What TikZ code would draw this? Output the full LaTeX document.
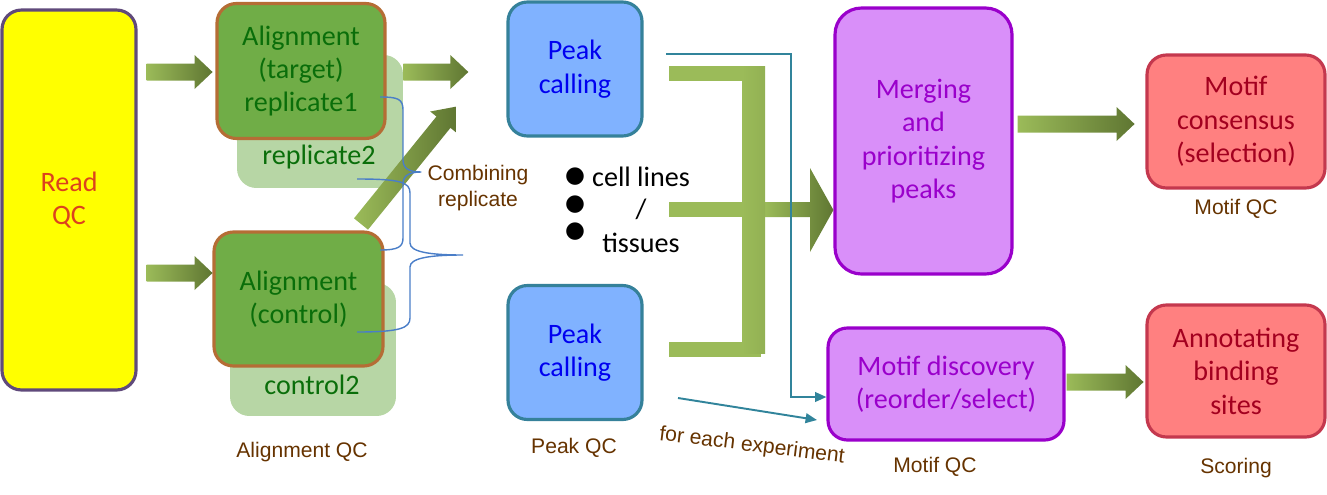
\documentclass[tikz,border=0pt]{standalone}
\usepackage{fontspec}
\setmainfont{Carlito}
\newfontfamily\labelfont{Liberation Sans}
\newfontfamily\symbolfont{DejaVu Sans}
\usetikzlibrary{calc,arrows.meta}

\definecolor{gLight}{HTML}{9BBB59}
\definecolor{gDark}{HTML}{5F7632}
\definecolor{readFill}{HTML}{FFFF00}
\definecolor{readLine}{HTML}{604A7B}
\definecolor{readText}{HTML}{DC421D}
\definecolor{alnFill}{HTML}{70AD47}
\definecolor{alnLine}{HTML}{B56D35}
\definecolor{alnText}{HTML}{0A6E0A}
\definecolor{repFill}{HTML}{B7D6A5}
\definecolor{pkFill}{HTML}{80B2FF}
\definecolor{pkLine}{HTML}{35819A}
\definecolor{pkText}{HTML}{0000F0}
\definecolor{mrgFill}{HTML}{D98FF9}
\definecolor{mrgLine}{HTML}{9A00CB}
\definecolor{redFill}{HTML}{FF8080}
\definecolor{redLine}{HTML}{C4384E}
\definecolor{redText}{HTML}{A3001F}
\definecolor{qcText}{HTML}{663300}
\definecolor{tealLine}{HTML}{31849B}
\definecolor{braceLine}{HTML}{4A7EC8}

\tikzset{
  box/.style={draw, line width=1.8pt, rounded corners=11pt, align=center,
    inner sep=0pt, font=\fontsize{16}{19}\selectfont},
  readbox/.style={box, fill=readFill, draw=readLine, text=readText},
  alnbox/.style={box, fill=alnFill, draw=alnLine, text=alnText},
  repbox/.style={fill=repFill, rounded corners=11pt, inner sep=0pt},
  reptext/.style={text=alnText, font=\fontsize{16}{19}\selectfont},
  pkbox/.style={box, fill=pkFill, draw=pkLine, text=pkText},
  mrgbox/.style={box, fill=mrgFill, draw=mrgLine, text=mrgLine},
  redbox/.style={box, fill=redFill, draw=redLine, text=redText},
  qc/.style={text=qcText, font=\labelfont\fontsize{12}{15}\selectfont, align=center},
  garrow/.style={left color=gLight, right color=gDark},
  link/.style={draw=tealLine, line width=1.1pt, -{Triangle[length=6.5pt,width=5.5pt]}},
  brace/.style={draw=braceLine, line width=0.8pt},
  list/.style={font=\fontsize{16}{19}\selectfont},
}

% horizontal block arrow: tail centre, length
\newcommand{\harrow}[2]{%
  \shade[garrow] (#1) ++(0,-8.5) -- ++(#2-18,0) -- ++(0,-8.5) -- ++(18,17)
    -- ++(-18,17) -- ++(0,-8.5) -- ++(-#2+18,0) -- cycle;}

\begin{document}
\begin{tikzpicture}[x=0.02cm, y=-0.02cm]
  \useasboundingbox (0,0) rectangle (1327,494);

  % shadow replicates
  \node[repbox, minimum width=3.32cm, minimum height=2.66cm] (rep2) at (320,121.5) {};
  \node[reptext] (rep2t) at (319,157) {replicate2};
  \node[repbox, minimum width=3.32cm, minimum height=2.66cm] (ctl2) at (313,349.5) {};
  \node[reptext] (ctl2t) at (312,385) {control2};

  % boxes
  \node[readbox, minimum width=2.68cm, minimum height=7.6cm] (read) at (69,200) {Read\\QC};
  \node[alnbox, minimum width=3.36cm, minimum height=2.7cm] (tgt) at (301,71) {Alignment\\(target)\\replicate1};
  \node[alnbox, minimum width=3.38cm, minimum height=2.68cm] (ctl) at (298.5,299) {Alignment\\(control)};
  \node[pkbox, minimum width=2.68cm, minimum height=2.68cm] (pk1) at (575,69) {Peak\\calling};
  \node[pkbox, minimum width=2.68cm, minimum height=2.68cm] (pk2) at (575,352.5) {Peak\\calling};
  \node[mrgbox, rounded corners=15pt, minimum width=3.54cm, minimum height=5.32cm] (merge) at (923.5,141) {Merging\\and\\prioritizing\\peaks};
  \node[mrgbox, minimum width=4.72cm, minimum height=2.24cm] (disc) at (946,384) {Motif discovery\\(reorder/select)};
  \node[redbox, minimum width=3.56cm, minimum height=2.66cm] (cons) at (1236,121.5) {Motif\\consensus\\(selection)};
  \node[redbox, minimum width=3.56cm, minimum height=2.64cm] (annot) at (1236,371) {Annotating\\binding\\sites};

  % QC labels
  \node[qc] (alnqc) at (302,452) {Alignment QC};
  \node[qc] (pkqc) at (574,448) {Peak QC};
  \node[qc] (consqc) at (1236,209) {Motif QC};
  \node[qc] (discqc) at (935,467) {Motif QC};
  \node[qc] (score) at (1236,468) {Scoring};
  \node[qc] (comb) at (478,188) {Combining\\replicate};
  \node[qc, rotate=-7] (each) at (752,446) {for each experiment};

  % samples list
  \node[font=\symbolfont\fontsize{13}{15}\selectfont] (b1) at (575,177) {●};
  \node[font=\symbolfont\fontsize{13}{15}\selectfont] (b2) at (575,205) {●};
  \node[font=\symbolfont\fontsize{13}{15}\selectfont] (b3) at (575,232) {●};
  \node[list] (cells) at (641,177) {cell lines};
  \node[list] (slash) at (641,209) {/};
  \node[list] (tiss) at (641,243) {tissues};

  % block arrows
  \harrow{$(read.east |- tgt.west)+(9,1)$}{66}
  \harrow{$(read.east |- ctl.west)+(9,-26)$}{66}
  \harrow{$(rep2.east |- tgt.west)+(0,1)$}{65}
  \harrow{$(merge.east |- cons.west)+(4,2.5)$}{117}
  \harrow{$(disc.east)+(1,-2)$}{77}
  \begin{scope}[shift={(361,224)}, rotate=51]
    \shade[garrow] (0,-9) -- (131,-9) -- (131,-17) -- (151,0) -- (131,17)
      -- (131,9) -- (0,9) -- cycle;
  \end{scope}

  % merging bracket
  \fill[gLight] (669,66) rectangle (765,81);
  \fill[gLight] (669,202) rectangle (742,217);
  \fill[gLight] (669,342) rectangle (761,357);
  \shade[left color=gLight, right color=gDark] (765,202) -- (810,202) -- (810,168)
    -- (merge.west |- 0,210) -- (810,252) -- (810,217) -- (765,217) -- cycle;
  \shade[left color=gLight, right color=gLight!85!gDark] (742,66) rectangle (765,353);

  % per experiment links
  \coordinate (pkA) at (666,54);
  \coordinate (turn) at (791,397);
  \coordinate (pkB) at (678,398);
  \coordinate (discB) at (817,420);
  \draw[link] (pkA) -| (turn) -- (turn -| disc.west);
  \draw[link] (pkB) -- (discB);

  % replicate braces
  \draw[brace] (380,97) .. controls (398,97) and (403,99) .. (403,110) -- (403,160)
    .. controls (403,169) and (410,172) .. (comb.west |- 0,172)
    .. controls (410,172) and (403,175) .. (403,184) -- (403,238)
    .. controls (403,247) and (398,250) .. (380,250);
  \draw[brace] (357,179) .. controls (400,179) and (410,182) .. (410,193) -- (410,243)
    .. controls (410,252) and (430,255) .. (463,255)
    .. controls (430,255) and (410,258) .. (410,267) -- (410,318)
    .. controls (410,328) and (400,332) .. (357,332);
\end{tikzpicture}
\end{document}
